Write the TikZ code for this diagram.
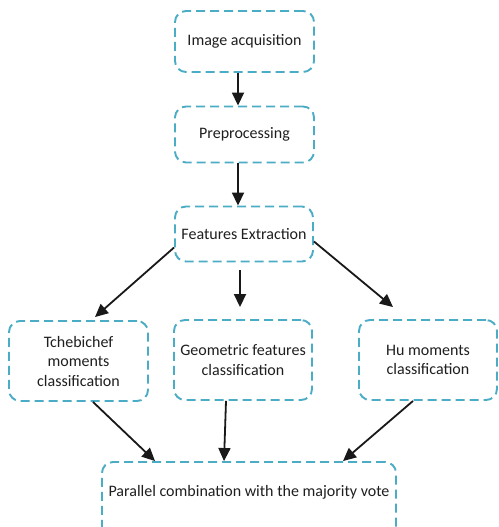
\documentclass[tikz,border=0pt]{standalone}
\usepackage{fontspec}
\setmainfont{Carlito}
\usetikzlibrary{arrows.meta,positioning}
\definecolor{boxblue}{RGB}{75,172,198}

\begin{document}
\begin{tikzpicture}[
    x=1pt, y=-1pt,
    stagenode/.style={draw=boxblue, line width=1.9pt, dash pattern=on 9pt off 5pt,
        rounded corners=11pt, align=center, inner sep=2pt, text=black!88,
        font=\fontsize{16}{19.5}\selectfont},
    flowarrow/.style={line width=1.8pt, black!90, -{Triangle[length=13pt,width=12pt]}}
]
\useasboundingbox[fill=white] (0,0) rectangle (498,527);
% Stages
\node[stagenode, minimum width=139pt, minimum height=61pt] (acq) at (244.5,41.5) {Image acquisition};
\node[stagenode, minimum width=139pt, minimum height=56pt] (prep) at (244.5,134.5) {Preprocessing};
\node[stagenode, minimum width=138pt, minimum height=55pt] (feat) at (244,234) {Features Extraction};
% Classifiers
\node[stagenode, minimum width=139pt, minimum height=80pt] (tcheb) at (78.5,361) {Tchebichef\\moments\\classification};
\node[stagenode, minimum width=138pt, minimum height=80pt] (geom) at (243,360) {Geometric features\\classification};
\node[stagenode, minimum width=138pt, minimum height=80pt] (hu) at (428,360) {Hu moments\\classification};
% Combination
\node[stagenode, minimum width=294pt, text height=30pt, text depth=42pt, inner ysep=4pt] (vote) at (249,502) {Parallel combination with the majority vote};
% Arrows
\draw[flowarrow] ([xshift=-6.5pt]acq.south) -- ([xshift=-6.5pt]prep.north);
\draw[flowarrow] ([xshift=-6.5pt]prep.south) -- ([xshift=-6pt]feat.north);
\draw[flowarrow] ([yshift=-13.5pt]feat.west) -- ([xshift=16.5pt,yshift=3pt]tcheb.north);
\draw[flowarrow] ([xshift=-4pt,yshift=-8pt]feat.south) -- ([xshift=-3pt,yshift=12pt]geom.north);
\draw[flowarrow] ([yshift=-7.5pt]feat.east) -- ([xshift=-35pt,yshift=12pt]hu.north);
\draw[flowarrow] ([xshift=14.5pt]tcheb.south) -- ([xshift=-94pt]vote.north);
\draw[flowarrow] ([xshift=-17pt]geom.south) -- ([xshift=-25pt]vote.north);
\draw[flowarrow] ([xshift=-15pt]hu.south) -- ([xshift=94pt]vote.north);
\end{tikzpicture}
\end{document}
